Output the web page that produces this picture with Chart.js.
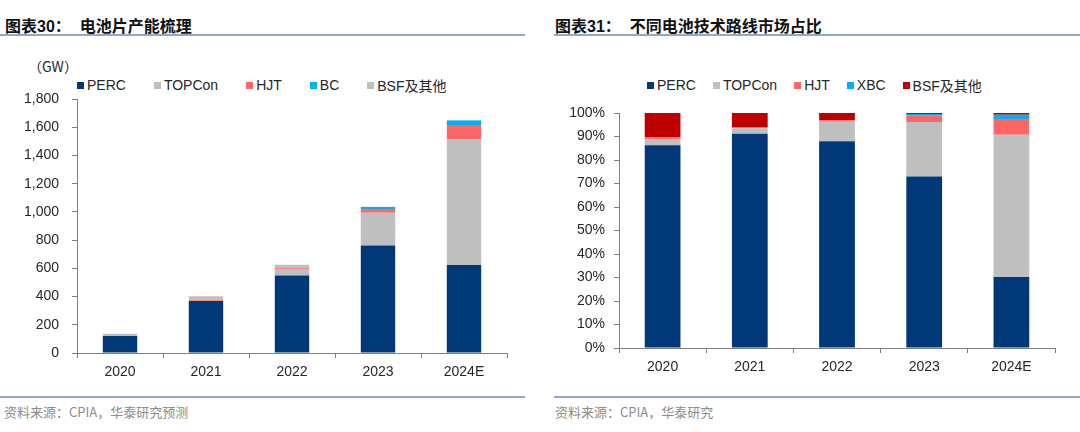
<!DOCTYPE html>
<html lang="zh-CN">
<head>
<meta charset="UTF-8">
<title>电池片产能梳理</title>
<style>
    body { margin: 0; width: 1080px; height: 432px; background: #fff; position: relative; overflow: hidden;
           font-family: "Liberation Sans", Arial, "Noto Sans CJK SC", sans-serif; }
    .title { position: absolute; top: 13px; font-size: 16px; font-weight: bold; color: #111;
             font-family: "Liberation Sans", "Noto Sans CJK SC", sans-serif; white-space: pre; }
    .rule { position: absolute; height: 2px; background: #8fa9c8; }
    .src { position: absolute; top: 402px; font-size: 13px; color: #8c8c8c;
           font-family: "Noto Sans CJK SC", sans-serif; }
    .unit { position: absolute; left: 28px; top: 56px; font-size: 14px; color: #262626;
            font-family: "Noto Sans CJK SC", "Liberation Sans", sans-serif; }
    .legend { position: absolute; top: 75px; display: flex; font-size: 14px; color: #262626; }
    .legend span.item { display: flex; align-items: center; white-space: nowrap; }
    .legend i { display: inline-block; width: 7px; height: 7px; margin-right: 3px; }
    canvas { position: absolute; }
</style>
</head>
<body>
    <div class="title" style="left:5px">图表30：  电池片产能梳理</div>
    <div class="rule" style="left:0; width:525px; top:34px"></div>
    <div class="title" style="left:555px">图表31：  不同电池技术路线市场占比</div>
    <div class="rule" style="left:554px; width:526px; top:34px"></div>

    <div class="unit">（GW）</div>
    <div class="legend" id="legendLeft" style="left:77px; gap:28px"></div>
    <div class="legend" id="legendRight" style="left:647px; gap:17px"></div>

    <div id="boxLeft" style="position:absolute; left:0; top:40px; width:530px; height:350px">
        <canvas id="capChart"></canvas>
    </div>
    <div id="boxRight" style="position:absolute; left:540px; top:40px; width:540px; height:350px">
        <canvas id="shareChart"></canvas>
    </div>

    <div class="rule" style="left:0; width:525px; top:396px"></div>
    <div class="rule" style="left:554px; width:526px; top:396px"></div>
    <div class="src" style="left:4px">资料来源：CPIA，华泰研究预测</div>
    <div class="src" style="left:555px">资料来源：CPIA，华泰研究</div>

    <script src="https://cdn.jsdelivr.net/npm/chart.js"></script>
    <script>
        // Dados
        const years = ['2020', '2021', '2022', '2023', '2024E'];

        // 图表30 产能 (GW)
        const capNames = ['PERC', 'TOPCon', 'HJT', 'BC', 'BSF及其他'];
        const capPERC = [120, 368, 550, 761, 624];
        const capTOPCon = [0, 0, 45, 233, 890];
        const capHJT = [0, 5, 5, 26, 102];
        const capBC = [0, 0, 0, 14, 31];
        const capBSF = [17, 29, 26, 3, 5];
        const capTicks = [0, 200, 400, 600, 800, 1000, 1200, 1400, 1600, 1800];

        // 图表31 市场占比 (%)
        const shareNames = ['PERC', 'TOPCon', 'HJT', 'XBC', 'BSF及其他'];
        const sharePERC = [86.3, 91.2, 88.0, 73.0, 30.2];
        const shareTOPCon = [2.4, 2.3, 8.3, 23.2, 60.5];
        const shareHJT = [1.0, 0.5, 0.6, 2.6, 6.8];
        const shareXBC = [0, 0, 0, 0.8, 1.8];
        const shareBSF = [10.3, 6.0, 3.1, 0.4, 0.7];
        const shareTicks = [0, 10, 20, 30, 40, 50, 60, 70, 80, 90, 100];

        const leftColors = ['#003878', '#bfbfbf', '#ff6666', '#00b0f0', '#bfbfbf'];
        const rightColors = ['#003878', '#bfbfbf', '#ff6666', '#00b0f0', '#bf0000'];

        function montarLegenda(id, nomes, cores) {
            const el = document.getElementById(id);
            nomes.forEach((n, i) => {
                const s = document.createElement('span');
                s.className = 'item';
                s.innerHTML = '<i style="background:' + cores[i] + '"></i>' + n;
                el.appendChild(s);
            });
        }
        montarLegenda('legendLeft', capNames, leftColors);
        montarLegenda('legendRight', shareNames, rightColors);

        const tickFont = { family: '"Liberation Sans", Arial, sans-serif', size: 14 };
        const axisColor = '#808080';

        function opcoes(cfg) {
            return {
                responsive: true,
                maintainAspectRatio: false,
                animation: false,
                layout: { padding: { top: cfg.top, right: cfg.right, left: 0, bottom: 0 } },
                plugins: { legend: { display: false }, tooltip: { enabled: false } },
                datasets: { bar: { categoryPercentage: 1, barPercentage: cfg.bar } },
                scales: {
                    x: {
                        stacked: true,
                        grid: { drawOnChartArea: false, offset: true, tickLength: 5, color: axisColor },
                        border: { color: axisColor, width: 1 },
                        ticks: { font: tickFont, color: '#262626', padding: 6, maxRotation: 0 },
                        afterFit: s => { s.height = cfg.xh; }
                    },
                    y: {
                        stacked: true,
                        min: 0,
                        max: cfg.max,
                        afterBuildTicks: s => { s.ticks = cfg.ticks.map(v => ({ value: v })); },
                        grid: { drawOnChartArea: false, tickLength: 5, color: axisColor },
                        border: { color: axisColor, width: 1 },
                        ticks: { font: tickFont, color: '#262626', padding: cfg.ypad, callback: cfg.fmt },
                        afterFit: s => { s.width = cfg.yw; }
                    }
                }
            };
        }

        function series(nomes, arrays, cores) {
            return nomes.map((n, i) => ({ label: n, data: arrays[i], backgroundColor: cores[i], borderWidth: 0 }));
        }

        new Chart(document.getElementById('capChart'), {
            type: 'bar',
            data: {
                labels: years,
                datasets: series(capNames, [capPERC, capTOPCon, capHJT, capBC, capBSF], leftColors)
            },
            options: opcoes({
                top: 59, right: 23, xh: 37, yw: 77, ypad: 13, bar: 0.4, max: 1800, ticks: capTicks,
                fmt: v => v.toLocaleString('en-US')
            })
        });

        new Chart(document.getElementById('shareChart'), {
            type: 'bar',
            data: {
                labels: years,
                datasets: series(shareNames, [sharePERC, shareTOPCon, shareHJT, shareXBC, shareBSF], rightColors)
            },
            options: opcoes({
                top: 73, right: 25, xh: 42, yw: 79, ypad: 9, bar: 0.41, max: 100, ticks: shareTicks,
                fmt: v => v + '%'
            })
        });
    </script>
</body>
</html>
